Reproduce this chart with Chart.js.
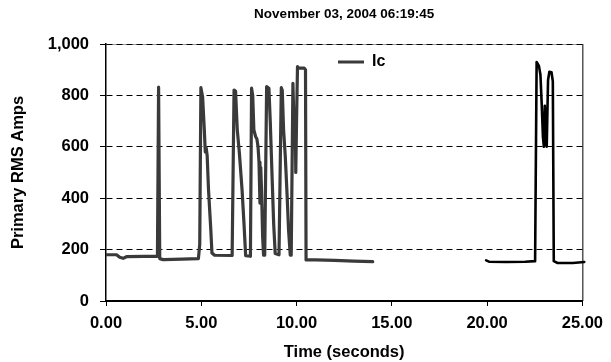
<!DOCTYPE html>
<html><head><meta charset="utf-8">
<script src="https://cdn.jsdelivr.net/npm/chart.js@4.4.1/dist/chart.umd.min.js"></script>
<style>html,body{margin:0;padding:0;background:#fff}</style>
</head><body>
<canvas id="c" width="611" height="362"></canvas>
<script>
const titleText = 'November 03, 2004 06:19:45';
const xTitle = 'Time (seconds)';
const yTitle = 'Primary RMS Amps';
const seriesName = 'Ic';
const xTicks = [0, 5, 10, 15, 20, 25];
const yTicks = [0, 200, 400, 600, 800, 1000];

const time1 = [0.00, 0.55, 0.72, 0.90, 1.10, 2.00, 2.70, 2.76, 2.82, 3.00, 4.00, 4.85, 4.92, 4.98, 5.07, 5.16, 5.21, 5.26, 5.31, 5.38, 5.50, 5.56, 5.70, 6.62, 6.72, 6.80, 6.89, 7.00, 7.14, 7.24, 7.33, 7.58, 7.64, 7.70, 7.76, 7.85, 7.92, 7.98, 8.03, 8.08, 8.12, 8.16, 8.22, 8.27, 8.33, 8.43, 8.55, 8.62, 8.70, 8.80, 8.88, 9.08, 9.20, 9.25, 9.32, 9.41, 9.50, 9.58, 9.67, 9.72, 9.81, 9.86, 9.90, 9.93, 9.96, 10.00, 10.05, 10.10, 10.40, 10.47, 10.50, 11.00, 12.00, 13.00, 14.00];
const ic1 = [180, 180, 170, 166, 173, 174, 174, 832, 165, 161, 163, 165, 220, 830, 795, 666, 580, 595, 565, 433, 278, 187, 178, 177, 821, 816, 666, 575, 433, 304, 176, 174, 828, 800, 666, 640, 630, 600, 540, 381, 520, 440, 250, 178, 178, 834, 828, 700, 520, 300, 185, 180, 830, 820, 666, 562, 420, 278, 178, 178, 847, 700, 601, 720, 500, 700, 912, 906, 906, 900, 160, 160, 158, 155, 153];

const time2 = [19.95, 20.10, 21.00, 22.00, 22.52, 22.60, 22.72, 22.80, 22.87, 22.93, 22.98, 23.03, 23.08, 23.13, 23.20, 23.27, 23.38, 23.45, 23.50, 23.70, 24.50, 25.10];
const ic2 = [158, 153, 152, 153, 155, 930, 915, 880, 760, 640, 600, 760, 620, 600, 860, 892, 890, 855, 155, 148, 148, 152];

const FONT = "'Liberation Sans', Arial, sans-serif";
const f = (s) => ({family: FONT, size: s, weight: 'bold'});

const frame = {
  id: 'frame',
  beforeDraw(chart) {
    const {ctx, chartArea: a} = chart;
    ctx.save();
    ctx.strokeStyle = '#9a9a9a';
    ctx.lineWidth = 1;
    ctx.beginPath();
    ctx.moveTo(a.left, a.top + 0.5); ctx.lineTo(a.right, a.top + 0.5);
    ctx.stroke();
    ctx.strokeStyle = '#000';
    ctx.beginPath();
    ctx.moveTo(a.right + 0.5, a.top); ctx.lineTo(a.right + 0.5, a.bottom);
    ctx.stroke();
    ctx.restore();
  },
  afterLayout(chart) {
    const lg = chart.legend;
    if (!lg) return;
    const w = lg.width;
    lg.left = chart.chartArea.left + 222;
    lg.right = lg.left + w;
    lg.top = chart.chartArea.top;
  }
};

new Chart(document.getElementById('c'), {
  type: 'line',
  data: {
    datasets: [
      {label: seriesName, data: time1.map((t, i) => ({x: t, y: ic1[i]})),
       borderColor: '#3a3a3a', backgroundColor: '#3a3a3a', borderWidth: 3.2,
       pointRadius: 0, tension: 0, borderJoinStyle: 'round', borderCapStyle: 'round'},
      {label: 'Ic2', data: time2.map((t, i) => ({x: t, y: ic2[i]})),
       borderColor: '#000', backgroundColor: '#000', borderWidth: 2.6, clip: 8,
       pointRadius: 0, tension: 0, borderJoinStyle: 'round', borderCapStyle: 'round'}
    ]
  },
  options: {
    responsive: false, animation: false, devicePixelRatio: 1,
    layout: {padding: {left: 0, right: 25, top: 0, bottom: 0}},
    plugins: {
      tooltip: {enabled: false},
      title: {display: true, text: titleText, color: '#000', font: f(13.5), fullSize: false,
              padding: {top: 6, bottom: 21.8}},
      legend: {
        position: 'chartArea', align: 'start',
        labels: {
          color: '#000', font: f(16), boxWidth: 26, boxHeight: 3,
          filter: (item) => item.datasetIndex === 0,
          generateLabels: (chart) => chart.data.datasets.map((d, i) => ({
            text: d.label, fillStyle: d.borderColor, strokeStyle: d.borderColor,
            lineWidth: 0, hidden: false, datasetIndex: i, fontColor: '#000'}))
        }
      }
    },
    scales: {
      x: {
        type: 'linear', min: 0, max: 25,
        afterBuildTicks: (s) => { s.ticks = xTicks.map(v => ({value: v})); },
        ticks: {callback: (v) => Number(v).toFixed(2), color: '#000', font: f(16.5), padding: 8, maxRotation: 0, autoSkip: false},
        grid: {display: true, drawOnChartArea: false, drawTicks: true, tickLength: 5, color: '#000', lineWidth: 1},
        border: {display: true, color: '#000', width: 2},
        title: {display: true, text: xTitle, color: '#000', font: f(16.5), padding: {top: 0, bottom: 0}},
        afterFit: (s) => { s.height = 61; }
      },
      y: {
        min: 0, max: 1000,
        afterBuildTicks: (s) => { s.ticks = yTicks.map(v => ({value: v})); },
        ticks: {callback: (v) => Number(v).toLocaleString('en-US'), color: '#000', font: f(16.5), padding: 11},
        grid: {color: '#000', lineWidth: 1, tickLength: 6, tickBorderDash: []},
        border: {display: true, color: '#000', width: 1.5, dash: [6, 4]},
        title: {display: true, text: yTitle, color: '#000', font: f(16.5), padding: {top: 9, bottom: 0}},
        afterFit: (s) => { s.width = 106; }
      }
    }
  },
  plugins: [frame]
});
</script>
</body></html>
